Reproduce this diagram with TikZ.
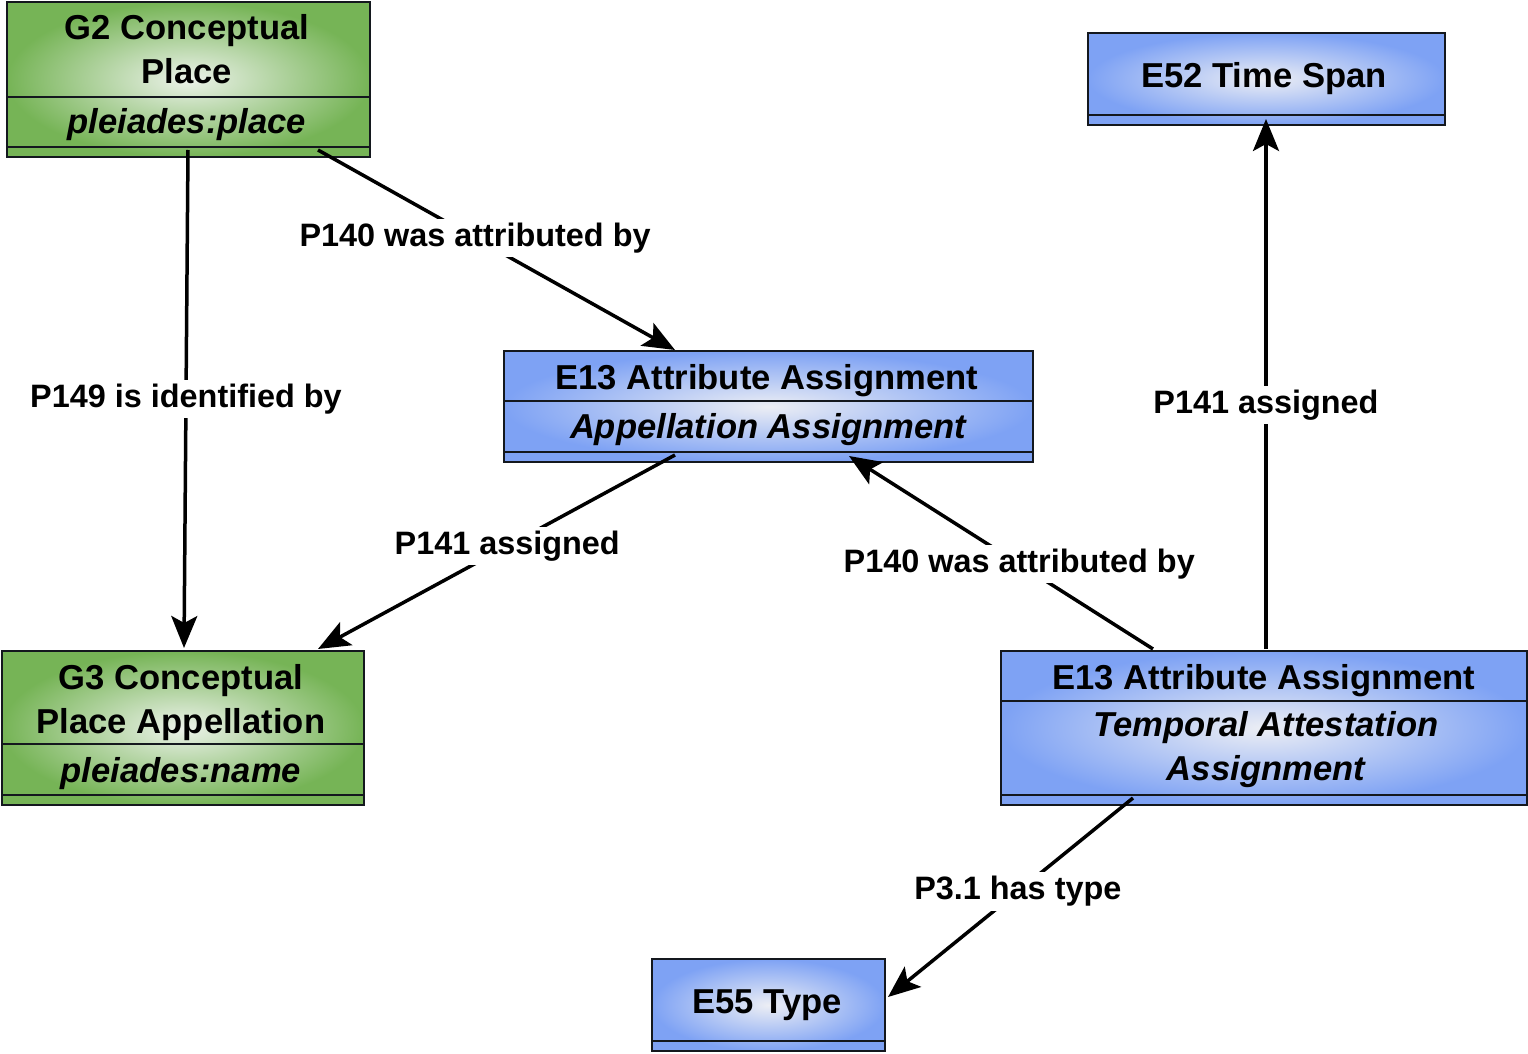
\documentclass[tikz,border=0pt]{standalone}
\usepackage{fontspec}
\setmainfont{Liberation Sans}
\usetikzlibrary{arrows.meta,calc}
\definecolor{gEdge}{RGB}{118,180,86}
\definecolor{gCtr}{RGB}{236,242,234}
\definecolor{bEdge}{RGB}{126,162,244}
\definecolor{bCtr}{RGB}{236,238,244}
\definecolor{lineC}{RGB}{20,24,30}
\tikzset{
  box/.style={draw=lineC, line width=1pt, rectangle, anchor=north west, inner sep=0pt},
  gbox/.style={box, inner color=gCtr, outer color=gEdge},
  bbox/.style={box, inner color=bCtr, outer color=bEdge},
  sepline/.style={draw=lineC, line width=1pt},
  ttl/.style={font=\fontsize{17.3}{22}\selectfont\bfseries, anchor=base, inner sep=0pt},
  itl/.style={font=\fontsize{17.3}{22}\selectfont\bfseries\itshape, anchor=base, inner sep=0pt},
  rel/.style={-{Stealth[length=16pt,width=13pt,inset=3.5pt]}, line width=1.75pt, draw=black},
  lbl/.style={fill=white, font=\fontsize{16.2}{19}\selectfont\bfseries, inner sep=2pt},
}
\begin{document}
\begin{tikzpicture}[x=0.5pt,y=-0.5pt]
\useasboundingbox (0,0) rectangle (1528,1054);

% ---- boxes ----
\node[gbox, minimum width=181.5pt, minimum height=77.5pt] (g2) at (6,1) {};
\draw[sepline] (g2.west |- 0,97) -- (g2.east |- 0,97);
\draw[sepline] (g2.west |- 0,147) -- (g2.east |- 0,147);
\node[ttl] (g2a) at (187,40) {G2 Conceptual};
\node[ttl] (g2b) at (187,84) {Place};
\node[itl] (g2c) at (187,134) {pleiades:place};

\node[bbox, minimum width=178.5pt, minimum height=46pt] (e52) at (1087,32) {};
\draw[sepline] (e52.west |- 0,115) -- (e52.east |- 0,115);
\node[ttl] (e52a) at (1264,88) {E52 Time Span};

\node[bbox, minimum width=264.5pt, minimum height=55.5pt] (e13a) at (503,350) {};
\draw[sepline] (e13a.west |- 0,401) -- (e13a.east |- 0,401);
\draw[sepline] (e13a.west |- 0,452) -- (e13a.east |- 0,452);
\node[ttl] (e13aa) at (767,389) {E13 Attribute Assignment};
\node[itl] (e13ab) at (768,438) {Appellation Assignment};

\node[gbox, minimum width=181pt, minimum height=77pt] (g3) at (1,650) {};
\draw[sepline] (g3.west |- 0,744) -- (g3.east |- 0,744);
\draw[sepline] (g3.west |- 0,795) -- (g3.east |- 0,795);
\node[ttl] (g3a) at (181,689) {G3 Conceptual};
\node[ttl] (g3b) at (181,733) {Place Appellation};
\node[itl] (g3c) at (181,782) {pleiades:name};

\node[bbox, minimum width=263pt, minimum height=77pt] (e13b) at (1000,650) {};
\draw[sepline] (e13b.west |- 0,701) -- (e13b.east |- 0,701);
\draw[sepline] (e13b.west |- 0,795) -- (e13b.east |- 0,795);
\node[ttl] (e13ba) at (1264,689) {E13 Attribute Assignment};
\node[itl] (e13bb) at (1266,736) {Temporal Attestation};
\node[itl] (e13bc) at (1266,780) {Assignment};

\node[bbox, minimum width=116.5pt, minimum height=46pt] (e55) at (651,958) {};
\draw[sepline] (e55.west |- 0,1041) -- (e55.east |- 0,1041);
\node[ttl] (e55a) at (767,1013) {E55 Type};

% ---- connectors ----
\draw[rel] ($(g2.south west)+(312,-8)$) -- node[lbl, pos=0.44] (l1) {P140 was attributed by} ($(e13a.north west)+(172,0)$);
\draw[rel] ($(g2.south)+(-0.5,-8)$) -- node[lbl, pos=0.5] (l2) {P149 is identified by} ($(g3.north)+(1,-2)$);
\draw[rel] ($(e13a.south west)+(172,-8)$) -- node[lbl, pos=0.47] (l3) {P141 assigned} ($(g3.north west)+(317,-1)$);
\draw[rel] ($(e13b.north west)+(153,-1)$) -- node[lbl, pos=0.44] (l4) {P140 was attributed by} ($(e13a.south west)+(346,-7)$);
\draw[rel] ($(e13b.north west)+(266,-1)$) -- node[lbl, pos=0.46] (l5) {P141 assigned} ($(e52.south west)+(179,-7)$);
\draw[rel] ($(e13b.south west)+(133,-8)$) -- node[lbl, pos=0.47] (l6) {P3.1 has type} ($(e55.north east)+(2,39)$);
\end{tikzpicture}
\end{document}
